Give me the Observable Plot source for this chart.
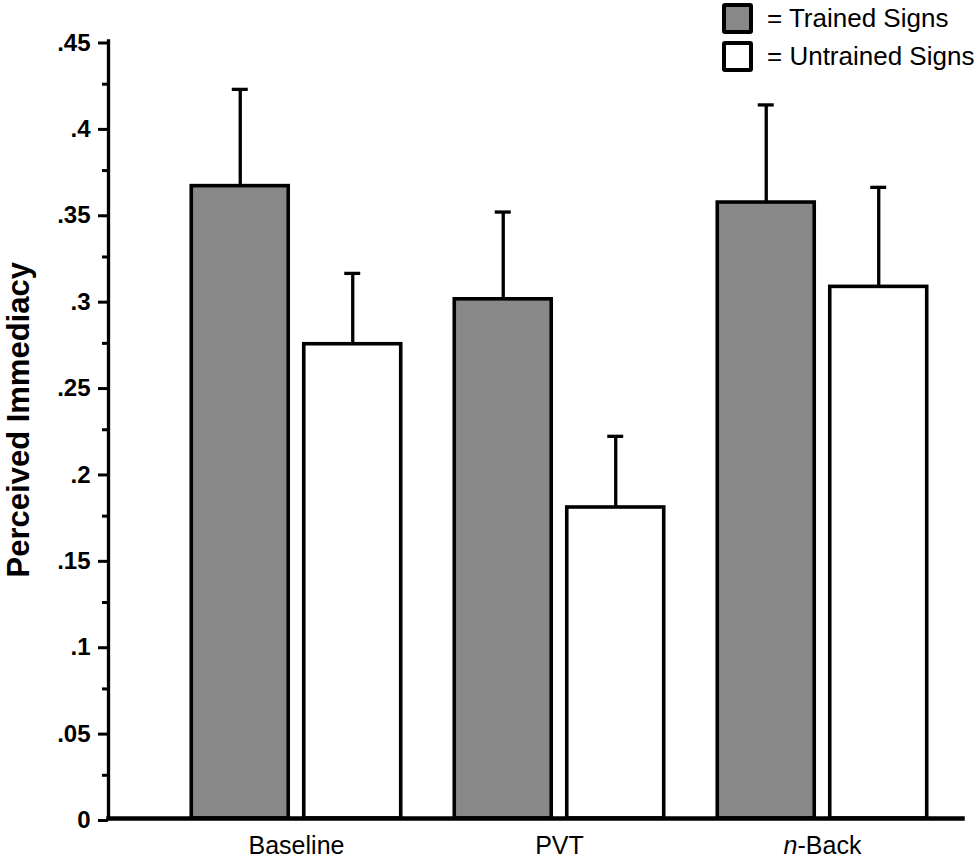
<!DOCTYPE html>
<html>
<head>
<meta charset="utf-8">
<script src="https://cdn.jsdelivr.net/npm/d3@7"></script>
<script src="https://cdn.jsdelivr.net/npm/@observablehq/plot@0.6"></script>
<style>
  html, body { margin: 0; padding: 0; background: #fff; }
  #wrap { position: relative; width: 976px; height: 859px; font-family: "Liberation Sans", Arial, Helvetica, sans-serif; }
  #legend { position: absolute; left: 722px; top: -1px; }
  .row { display: flex; align-items: center; height: 38px; }
  .sw { box-sizing: border-box; width: 31px; height: 31px; border: 4px solid #000; border-radius: 3px; margin-right: 14px; }
  .lab { font-size: 26px; color: #000; white-space: nowrap; line-height: 1; }
</style>
</head>
<body>
<div id="wrap"><div id="legend"></div></div>
<script>
// ---- data ----
const groups = ["Baseline", "PVT", "n-Back"];
const series = ["Trained Signs", "Untrained Signs"];
const trained = [0.366, 0.3005, 0.3565];
const trainedErr = [0.056, 0.0505, 0.0565];
const untrained = [0.2745, 0.180, 0.3077];
const untrainedErr = [0.041, 0.0412, 0.0576];
const fillColors = ["#888888", "#ffffff"];
const yTicks = [0, 0.05, 0.1, 0.15, 0.2, 0.25, 0.3, 0.35, 0.4, 0.45];
const yTickLabels = ["0", ".05", ".1", ".15", ".2", ".25", ".3", ".35", ".4", ".45"];
const yMinorTicks = [0.025, 0.075, 0.125, 0.175, 0.225, 0.275, 0.325, 0.375, 0.425];
const yTitle = "Perceived Immediacy";

const values = [trained, untrained];
const errs = [trainedErr, untrainedErr];
const data = [];
groups.forEach((g, i) => series.forEach((s, j) => data.push({group: g, series: s, value: values[j][i], err: errs[j][i]})));
const labelOf = new Map(yTicks.map((t, i) => [t, yTickLabels[i]]));

const font = "'Liberation Sans', Arial, Helvetica, sans-serif";

// layout of the facet bands: facets leave a gap to the left margin (and a small one at right)
const W = 976, ML = 108, MR = 14;
const fxPadOuter = 0.1236, fxAlign = 0.869;
const span = W - ML - MR;
const step = span / (groups.length + 2 * fxPadOuter);
const spare = span - step * groups.length;
const leftGap = spare * fxAlign;          // from the left margin to the first facet
const rightGap = spare * (1 - fxAlign);   // from the last facet to the right margin

const chart = Plot.plot({
  width: W,
  height: 859,
  marginLeft: ML,
  marginRight: MR,
  marginTop: 40.5,
  marginBottom: 41,
  style: {fontFamily: font, background: "#fff", color: "#000", overflow: "visible"},
  fx: {domain: groups, paddingInner: 0, paddingOuter: fxPadOuter, align: fxAlign, round: false, label: null},
  x: {domain: series, paddingInner: 0.138, paddingOuter: 0.238, round: false, axis: null},
  y: {domain: [0, 0.45], label: null},
  color: {domain: series, range: fillColors},
  marks: [
    Plot.barY(data, {fx: "group", x: "series", y: "value", fill: "series", stroke: "#000", strokeWidth: 3.6}),
    Plot.ruleX(data, {fx: "group", x: "series", y1: "value", y2: d => d.value + d.err, stroke: "#000", strokeWidth: 3.3}),
    Plot.tickY(data, {fx: "group", x: "series", y: d => d.value + d.err, stroke: "#000", strokeWidth: 3.3, insetLeft: 40.5, insetRight: 40.5}),
    Plot.axisY(yMinorTicks, {tickSize: 6, tickFormat: () => "", strokeWidth: 3, stroke: "#000", dx: -leftGap}),
    Plot.axisY(yTicks, {tickSize: 10, tickPadding: 8, tickFormat: d => labelOf.get(d), fontSize: 24, fontWeight: "bold", strokeWidth: 3, stroke: "#000", fill: "#000", dx: -leftGap, dy: 2, label: null}),
    Plot.frame({facet: "super", anchor: "left", stroke: "#000", strokeWidth: 3.3, insetLeft: -leftGap}),
    Plot.frame({facet: "super", anchor: "bottom", stroke: "#000", strokeWidth: 4.5, insetLeft: -leftGap, insetRight: -rightGap}),
    Plot.axisFx({anchor: "bottom", tickSize: 0, tickPadding: 18, fontSize: 25, fill: "#000", label: null}),
    Plot.text([yTitle], {facet: "super", frameAnchor: "left", textAnchor: "middle", rotate: -90, dx: -leftGap - 89.5, dy: -10, fontSize: 31, fontWeight: "bold", fill: "#000"})
  ]
});

// italic "n" in n-Back
chart.querySelectorAll("text").forEach(t => {
  if (t.textContent === "n-Back") {
    t.textContent = "";
    const ns = "http://www.w3.org/2000/svg";
    const a = document.createElementNS(ns, "tspan"); a.setAttribute("font-style", "italic"); a.textContent = "n";
    const b = document.createElementNS(ns, "tspan"); b.textContent = "-Back";
    t.appendChild(a); t.appendChild(b);
  }
});

document.getElementById("wrap").prepend(chart);

// legend
const legend = document.getElementById("legend");
series.forEach((s, i) => {
  const row = document.createElement("div"); row.className = "row";
  const sw = document.createElement("div"); sw.className = "sw"; sw.style.background = fillColors[i];
  const lab = document.createElement("span"); lab.className = "lab"; lab.textContent = "= " + s;
  row.appendChild(sw); row.appendChild(lab); legend.appendChild(row);
});
</script>
</body>
</html>
